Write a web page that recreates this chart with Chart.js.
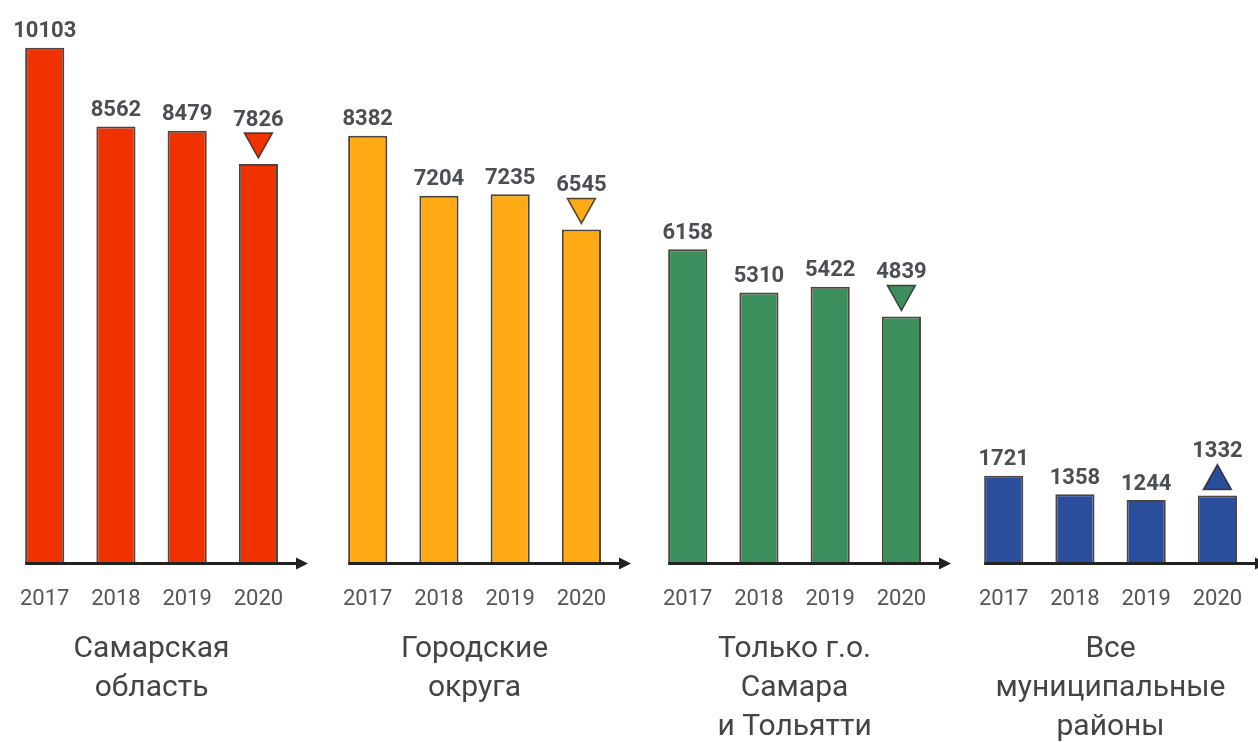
<!DOCTYPE html>
<html>
<head>
<meta charset="utf-8">
<script src="https://cdn.jsdelivr.net/npm/chart.js@4"></script>
<style>
  html, body { margin: 0; padding: 0; background: #fff; overflow: hidden; }
  .panel { position: absolute; top: 0; }
</style>
</head>
<body>
<div class="panel" style="left:-4px"><canvas id="c0" width="320" height="747"></canvas></div>
<div class="panel" style="left:319px"><canvas id="c1" width="320" height="747"></canvas></div>
<div class="panel" style="left:639px"><canvas id="c2" width="320" height="747"></canvas></div>
<div class="panel" style="left:955px"><canvas id="c3" width="320" height="747"></canvas></div>
<script>
const years = ["2017", "2018", "2019", "2020"];

const samaraRegion = [10103, 8562, 8479, 7826];
const urbanDistricts = [8382, 7204, 7235, 6545];
const samaraTogliatti = [6158, 5310, 5422, 4839];
const municipalDistricts = [1721, 1358, 1244, 1332];

const groupTitles = [
  ["Самарская", "область"],
  ["Городские", "округа"],
  ["Только г.о.", "Самара", "и Тольятти"],
  ["Все", "муниципальные", "районы"],
];
const trends = ["down", "down", "down", "up"];

const COLORS = ["#f03200", "#fdaa14", "#3c8f5c", "#2b4e9c"];
const FONT = "Roboto";
const TITLE_LH = 39;

const groups = [samaraRegion, urbanDistricts, samaraTogliatti, municipalDistricts];

const decorPlugin = {
  id: "decor",
  afterDatasetsDraw(chart) {
    const ctx = chart.ctx;
    const area = chart.chartArea;
    const bars = chart.getDatasetMeta(0).data;
    const values = chart.data.datasets[0].data;
    const trend = chart.options.plugins.decor.trend;
    const color = chart.data.datasets[0].backgroundColor;

    // axis with arrow
    const first = bars[0];
    const x0 = first.x - first.width / 2;
    const x1 = area.right + 14;
    const y = area.bottom;
    ctx.save();
    ctx.strokeStyle = "#222";
    ctx.fillStyle = "#222";
    ctx.lineWidth = 3;
    ctx.beginPath();
    ctx.moveTo(x0, y);
    ctx.lineTo(x1 - 8, y);
    ctx.stroke();
    ctx.beginPath();
    ctx.moveTo(x1, y);
    ctx.lineTo(x1 - 12, y - 6);
    ctx.lineTo(x1 - 12, y + 6);
    ctx.closePath();
    ctx.fill();

    // value labels + trend triangle
    ctx.font = "bold 22px " + FONT;
    ctx.fillStyle = "#4b4e53";
    ctx.textAlign = "center";
    ctx.textBaseline = "bottom";
    bars.forEach((bar, i) => {
      let top = bar.y - 7;
      if (i === bars.length - 1) {
        const tTop = bar.y - 6 - 25;
        const tBot = bar.y - 6;
        ctx.beginPath();
        if (trend === "down") {
          ctx.moveTo(bar.x - 14, tTop);
          ctx.lineTo(bar.x + 14, tTop);
          ctx.lineTo(bar.x, tBot);
        } else {
          ctx.moveTo(bar.x - 14, tBot);
          ctx.lineTo(bar.x + 14, tBot);
          ctx.lineTo(bar.x, tTop);
        }
        ctx.closePath();
        ctx.fillStyle = color;
        ctx.fill();
        ctx.strokeStyle = "rgba(40,30,25,0.8)";
        ctx.lineWidth = 1.5;
        ctx.stroke();
        ctx.fillStyle = "#4b4e53";
        top = tTop - 4;
      }
      ctx.fillText(String(values[i]), bar.x, top + 2);
    });
    ctx.restore();
  },
};

groups.forEach((values, g) => {
  const title = groupTitles[g];
  new Chart(document.getElementById("c" + g), {
    type: "bar",
    data: {
      labels: years,
      datasets: [
        {
          data: values,
          backgroundColor: COLORS[g],
          borderColor: "rgba(45,35,30,0.85)",
          borderWidth: 2,
          barPercentage: 0.55,
          categoryPercentage: 1,
        },
      ],
    },
    options: {
      responsive: false,
      devicePixelRatio: 1,
      animation: false,
      layout: {
        padding: { left: 8, right: 22, top: 2, bottom: (3 - title.length) * TITLE_LH },
      },
      plugins: {
        legend: { display: false },
        tooltip: { enabled: false },
        decor: { trend: trends[g] },
      },
      scales: {
        y: { display: false, min: 0, max: 11000 },
        x: {
          grid: { display: false, drawTicks: false },
          border: { display: false },
          ticks: {
            color: "#555",
            padding: 23,
            font: { family: FONT, size: 22 },
          },
          title: {
            display: true,
            text: title,
            color: "#444",
            font: { family: FONT, size: 30, lineHeight: 1.3 },
            padding: { top: -6, bottom: 0 },
          },
        },
      },
    },
    plugins: [decorPlugin],
  });
});
</script>
</body>
</html>
